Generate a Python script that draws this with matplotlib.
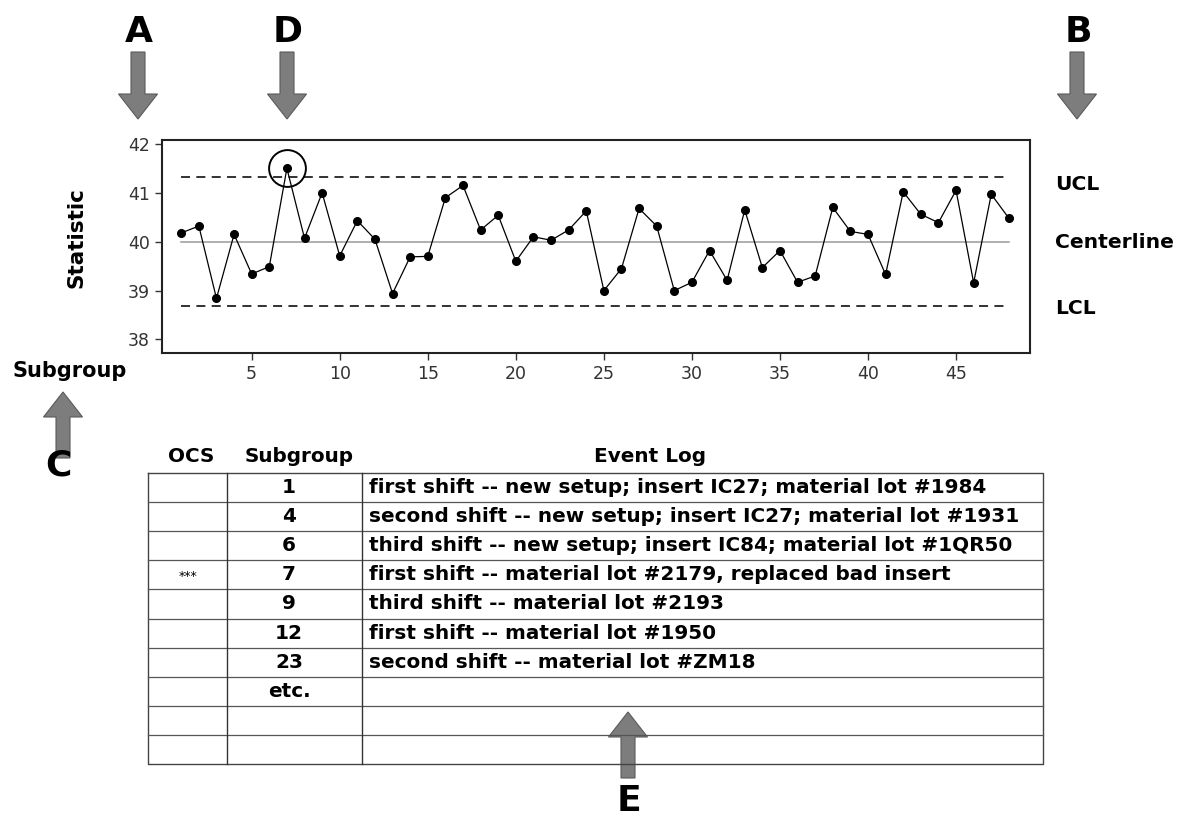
import numpy as np
import matplotlib
matplotlib.use("Agg")
import matplotlib.pyplot as plt
from matplotlib.patches import FancyArrow

# chart data
subgroup = np.arange(1, 49)
statistic = [40.18, 40.32, 38.84, 40.15, 39.34, 39.49, 41.50, 40.07, 41.00, 39.71,
             40.43, 40.05, 38.94, 39.69, 39.70, 40.90, 41.15, 40.24, 40.54, 39.60,
             40.10, 40.03, 40.24, 40.63, 39.00, 39.45, 40.68, 40.32, 39.00, 39.17,
             39.82, 39.21, 40.65, 39.47, 39.82, 39.17, 39.30, 40.70, 40.21, 40.15,
             39.33, 41.02, 40.56, 40.39, 41.05, 39.16, 40.97, 40.48]
ucl = 41.32
center = 40.0
lcl = 38.69
flagged = 7  # out-of-control subgroup

# event log table
ocs_col = ["", "", "", "***", "", "", "", "", "", ""]
sub_col = ["1", "4", "6", "7", "9", "12", "23", "etc.", "", ""]
log_col = ["first shift -- new setup; insert IC27; material lot #1984",
           "second shift -- new setup; insert IC27; material lot #1931",
           "third shift -- new setup; insert IC84; material lot #1QR50",
           "first shift -- material lot #2179, replaced bad insert",
           "third shift -- material lot #2193",
           "first shift -- material lot #1950",
           "second shift -- material lot #ZM18",
           "", "", ""]

W, H = 1189, 818
fig = plt.figure(figsize=(W / 100, H / 100), dpi=100)
fig.patch.set_facecolor("white")

# ---- control chart ----
ax = fig.add_axes([161.7 / W, 1 - 352.7 / H, (1030 - 161.7) / W, (352.7 - 140) / H])
ax.plot(subgroup, statistic, color="black", lw=0.9, marker="o", ms=5.5, zorder=3)
ax.plot([1, 48], [ucl, ucl], color="#222222", lw=1.3, dashes=(5, 3.5))
ax.plot([1, 48], [lcl, lcl], color="#222222", lw=1.3, dashes=(5, 3.5))
ax.plot([1, 48], [center, center], color="#9a9a9a", lw=1.1)
ax.set_xlim(-0.11, 49.2)
ax.set_ylim(37.73, 42.08)
ax.set_xticks([5, 10, 15, 20, 25, 30, 35, 40, 45])
ax.set_yticks([38, 39, 40, 41, 42])
ax.tick_params(direction="out", length=5, width=1, colors="#333333", labelsize=12.5)
for lab in ax.get_xticklabels() + ax.get_yticklabels():
    lab.set_family("DejaVu Sans")
for s in ax.spines.values():
    s.set_linewidth(1.5)
    s.set_color("#222222")
# circle round the flagged point
ax.plot(flagged, statistic[flagged - 1], marker="o", ms=26.5, mfc="none", mec="black", mew=1.4)

# ---- overlay in pixel coordinates for labels, arrows and the table ----
ov = fig.add_axes([0, 0, 1, 1])
ov.set_xlim(0, W)
ov.set_ylim(H, 0)
ov.axis("off")
ov.patch.set_alpha(0)

bold = dict(family="DejaVu Sans", fontweight="bold", color="black")

def arrow(x, y0, y1):
    ov.add_patch(FancyArrow(x, y0, 0, y1 - y0, width=14, head_width=39, head_length=25,
                            length_includes_head=True, fc="#7d7d7d", ec="#5a5a5a", lw=0.8))

for letter, x in [("A", 139), ("D", 288), ("B", 1078)]:
    ov.text(x, 32, letter, fontsize=26, ha="center", va="center", **bold)
    arrow(x - 1, 52, 119)

ov.text(1055, 184, "UCL", fontsize=14.6, ha="left", va="center", **bold)
ov.text(1055, 243, "Centerline", fontsize=14.6, ha="left", va="center", **bold)
ov.text(1055, 308, "LCL", fontsize=14.6, ha="left", va="center", **bold)
ov.text(77, 238, "Statistic", fontsize=15.5, rotation=90, ha="center", va="center", **bold)
ov.text(70, 371, "Subgroup", fontsize=15, ha="center", va="center", **bold)
arrow(63, 458, 392)
ov.text(58, 466, "C", fontsize=26, ha="center", va="center", **bold)

# table
tl, tr, tt, tb = 148, 1043, 473, 764
c1, c2 = 226.7, 361.7
nrow = len(sub_col)
rh = (tb - tt) / nrow
ov.plot([tl, tr, tr, tl, tl], [tt, tt, tb, tb, tt], color="#444444", lw=1)
for i in range(1, nrow):
    ov.plot([tl, tr], [tt + i * rh] * 2, color="#555555", lw=0.9)
for c in (c1, c2):
    ov.plot([c, c], [tt, tb], color="#333333", lw=1)
ov.text(191, 457, "OCS", fontsize=14.4, ha="center", va="center", **bold)
ov.text(299, 457, "Subgroup", fontsize=14.4, ha="center", va="center", **bold)
ov.text(650, 457, "Event Log", fontsize=14.4, ha="center", va="center", **bold)
for i in range(nrow):
    yc = tt + (i + 0.5) * rh
    if ocs_col[i]:
        ov.text(188, yc + 2, ocs_col[i], fontsize=9, ha="center", va="center",
                family="DejaVu Sans", color="black")
    ov.text(289, yc, sub_col[i], fontsize=14.4, ha="center", va="center", **bold)
    ov.text(c2 + 7, yc, log_col[i], fontsize=14.4, ha="left", va="center", **bold)

arrow(628, 778, 712)
ov.text(629, 801, "E", fontsize=26, ha="center", va="center", **bold)

fig.savefig("out.png", dpi=100)
